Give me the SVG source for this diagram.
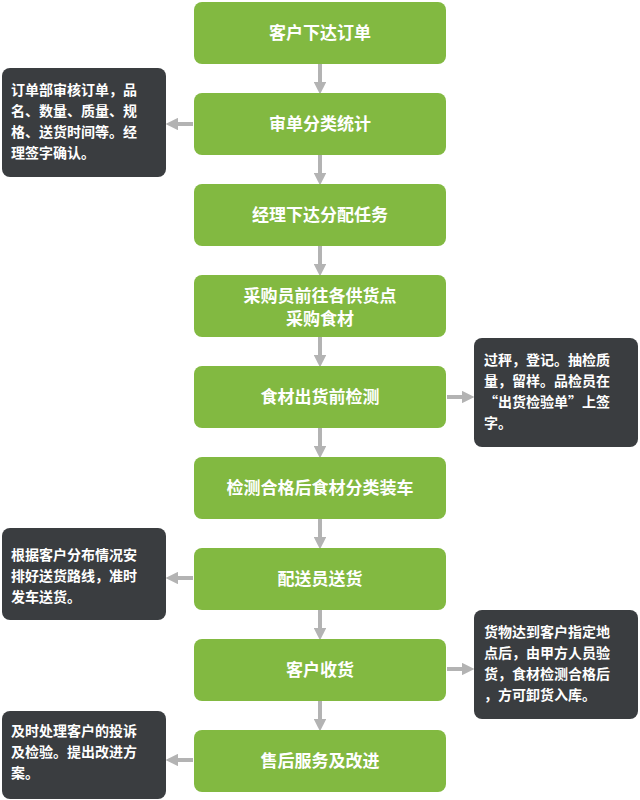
<svg xmlns="http://www.w3.org/2000/svg" width="640" height="800" viewBox="0 0 640 800">
<defs>
<style>
.b{fill:#82b941}
.n{fill:#3a3d40}
.t{font-family:"Noto Sans CJK SC",sans-serif;font-size:17px;font-weight:bold;fill:#fff;text-anchor:middle}
.s{font-family:"Noto Sans CJK SC",sans-serif;font-size:14px;font-weight:bold;fill:#fff}
.c{stroke:#b3b3b3;stroke-width:4;fill:none;marker-end:url(#a)}
</style>
<marker id="a" viewBox="0 0 10 10" refX="5" refY="5" markerWidth="3.2" markerHeight="3.2" orient="auto" markerUnits="strokeWidth"><path d="M0,0L10,5L0,10z" fill="#b3b3b3"/></marker>
</defs>
<g id="connectors">
<path class="c" d="M320,64V88"/><path class="c" d="M320,155V179"/><path class="c" d="M320,246V270"/><path class="c" d="M320,337V361"/><path class="c" d="M320,428V452"/><path class="c" d="M320,519V543"/><path class="c" d="M320,610V634"/><path class="c" d="M320,701V725"/>
<path class="c" d="M193,124H172"/><path class="c" d="M447,397H468"/><path class="c" d="M193,578H172"/><path class="c" d="M447,669H468"/><path class="c" d="M193,760H172"/>
</g>
<g id="n1"><rect class="b" x="194" y="2" width="252" height="62" rx="8"/><text class="t" x="320" y="39">客户下达订单</text></g>
<g id="n2"><rect class="b" x="194" y="93" width="252" height="62" rx="8"/><text class="t" x="320" y="130">审单分类统计</text></g>
<g id="n3"><rect class="b" x="194" y="184" width="252" height="62" rx="8"/><text class="t" x="320" y="221">经理下达分配任务</text></g>
<g id="n4"><rect class="b" x="194" y="275" width="252" height="62" rx="8"/><text class="t" x="320" y="302">采购员前往各供货点</text><text class="t" x="320" y="325">采购食材</text></g>
<g id="n5"><rect class="b" x="194" y="366" width="252" height="62" rx="8"/><text class="t" x="320" y="403">食材出货前检测</text></g>
<g id="n6"><rect class="b" x="194" y="457" width="252" height="62" rx="8"/><text class="t" x="320" y="494">检测合格后食材分类装车</text></g>
<g id="n7"><rect class="b" x="194" y="548" width="252" height="62" rx="8"/><text class="t" x="320" y="585">配送员送货</text></g>
<g id="n8"><rect class="b" x="194" y="639" width="252" height="62" rx="8"/><text class="t" x="320" y="676">客户收货</text></g>
<g id="n9"><rect class="b" x="194" y="730" width="252" height="62" rx="8"/><text class="t" x="320" y="767">售后服务及改进</text></g>
<g id="m1"><rect class="n" x="2" y="68" width="164" height="109" rx="8"/><text class="s"><tspan x="11" y="95">订单部审核订单，品</tspan><tspan x="11" y="116">名、数量、质量、规</tspan><tspan x="11" y="137">格、送货时间等。经</tspan><tspan x="11" y="158">理签字确认。</tspan></text></g>
<g id="m2"><rect class="n" x="474" y="338" width="164" height="109" rx="8"/><text class="s"><tspan x="484" y="365">过秤，登记。抽检质</tspan><tspan x="484" y="386">量，留样。品检员在</tspan><tspan x="484" y="407">“出货检验单”上签</tspan><tspan x="484" y="428">字。</tspan></text></g>
<g id="m3"><rect class="n" x="2" y="528" width="164" height="92" rx="8"/><text class="s"><tspan x="11" y="560">根据客户分布情况安</tspan><tspan x="11" y="581">排好送货路线，准时</tspan><tspan x="11" y="602">发车送货。</tspan></text></g>
<g id="m4"><rect class="n" x="474" y="610" width="164" height="109" rx="8"/><text class="s"><tspan x="484" y="637">货物达到客户指定地</tspan><tspan x="484" y="658">点后，由甲方人员验</tspan><tspan x="484" y="679">货，食材检测合格后</tspan><tspan x="484" y="700">，方可卸货入库。</tspan></text></g>
<g id="m5"><rect class="n" x="2" y="711" width="164" height="88" rx="8"/><text class="s"><tspan x="11" y="736">及时处理客户的投诉</tspan><tspan x="11" y="757">及检验。提出改进方</tspan><tspan x="11" y="778">案。</tspan></text></g>
</svg>
